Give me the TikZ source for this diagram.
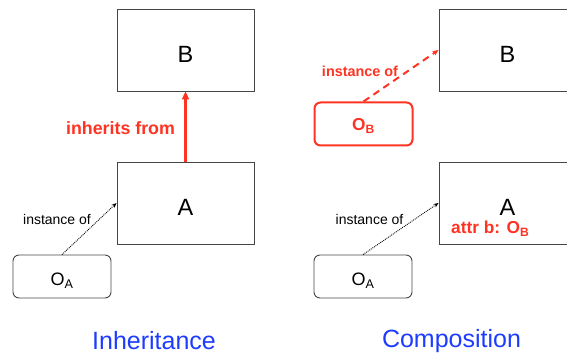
\documentclass[tikz,border=0pt]{standalone}
\usepackage{fontspec}
\setmainfont{Liberation Sans}
\usetikzlibrary{arrows.meta}
\definecolor{myred}{RGB}{255,51,34}
\definecolor{myblue}{RGB}{30,60,255}
\definecolor{boxgray}{RGB}{70,70,70}
\tikzset{
  classbox/.style={draw=boxgray, line width=0.9pt, minimum width=137pt, minimum height=82pt, inner sep=0pt},
  objbox/.style={draw=boxgray, line width=0.9pt, rounded corners=6pt, minimum width=98pt, minimum height=43pt, inner sep=0pt},
  redobj/.style={draw=myred, line width=2pt, rounded corners=6pt, minimum width=98pt, minimum height=43pt, inner sep=0pt},
  bigtxt/.style={font=\fontsize{23.5}{26}\selectfont, inner sep=0pt},
  objtxt/.style={font=\fontsize{18}{20}\selectfont, inner sep=0pt},
  smalltxt/.style={font=\fontsize{14}{16}\selectfont, inner sep=0pt},
  redlbl/.style={font=\bfseries\fontsize{17.8}{19}\selectfont, text=myred, inner sep=0pt},
  attrlbl/.style={font=\bfseries\fontsize{17.3}{19}\selectfont, text=myred, inner sep=0pt},
  redsmall/.style={font=\bfseries\fontsize{14.4}{16}\selectfont, text=myred, inner sep=0pt},
  title/.style={font=\fontsize{25}{28}\selectfont, text=myblue, inner sep=0pt},
  dotarrow/.style={densely dotted, line width=0.9pt, -{Stealth[length=5pt,width=4pt]}},
  redarrow/.style={draw=myred, line width=2.6pt, -{Triangle[length=8pt,width=7pt]}},
  reddash/.style={draw=myred, line width=2pt, dash pattern=on 7pt off 5pt, -{Stealth[length=6pt,width=5pt]}},
}
\begin{document}
\begin{tikzpicture}[x=1pt,y=-1pt]
\useasboundingbox (0,0) rectangle (567,358);
\clip (0,0) rectangle (567,358);
% Inheritance
\node[classbox] (B1) at (185.5,50) {};
\node[bigtxt] (B1t) at (185.5,54.5) {B};
\node[classbox] (A1) at (185.5,203) {};
\node[bigtxt] (A1t) at (185.5,207) {A};
\node[objbox] (OA1) at (62,276.5) {};
\node[objtxt] (OA1t) at (62,281) {O\textsubscript{A}};
\draw[redarrow] (A1.north) -- (B1.south);
\node[redlbl] (inh) at (120.5,128) {inherits from};
\draw[dotarrow] (OA1.north) -- (A1.west);
\node[smalltxt] (i1) at (57,219) {instance of};
% Composition
\node[classbox] (B2) at (507.5,50) {};
\node[bigtxt] (B2t) at (507.5,54.5) {B};
\node[classbox] (A2) at (507.5,203) {};
\node[bigtxt] (A2t) at (507.5,207) {A};
\node[attrlbl, anchor=west] (attr) at (451,229) {attr b: O\textsubscript{B}};
\node[redobj] (OB) at (363.5,124) {};
\node[attrlbl] (OBt) at (363.5,126) {O\textsubscript{B}};
\draw[reddash] (OB.north) -- (B2.west);
\node[redsmall] (i2) at (360,71) {instance of};
\node[objbox] (OA2) at (363,276.5) {};
\node[objtxt] (OA2t) at (363,281) {O\textsubscript{A}};
\draw[dotarrow] (OA2.north) -- (A2.west);
\node[smalltxt] (i3) at (369.5,219) {instance of};
% titles
\node[title] (t1) at (154,341) {Inheritance};
\node[title] (t2) at (451.5,341) {Composition};
\end{tikzpicture}
\end{document}
